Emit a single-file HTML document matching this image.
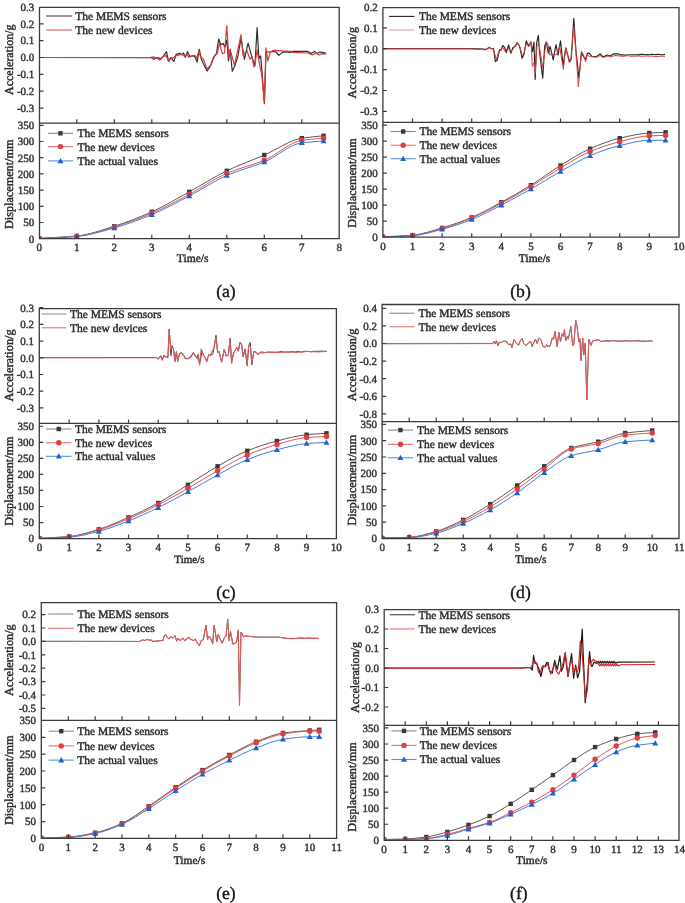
<!DOCTYPE html>
<html><head><meta charset="utf-8"><style>
html,body{margin:0;padding:0;background:#fff;}
svg{display:block;filter:blur(0.4px);}
text{text-rendering:geometricPrecision;font-family:"Liberation Serif",serif;stroke:#2a2a2a;stroke-width:0.4px;paint-order:stroke;}
</style></head><body>
<svg width="685" height="903" viewBox="0 0 685 903">
<rect width="685" height="903" fill="#fff"/>
<clipPath id="clipa"><rect x="39.5" y="7.3" width="299.7" height="115.9"/></clipPath>
<polyline clip-path="url(#clipa)" points="39.5,57.5 150.0,57.6 152.0,57.9 153.8,59.3 155.5,57.9 158.1,57.9 160.8,58.6 163.8,55.6 166.5,51.6 168.6,61.7 170.8,57.6 173.9,61.3 176.1,54.4 180.0,53.4 181.3,54.7 183.5,53.0 185.3,57.3 187.5,51.6 189.7,56.5 192.7,55.6 194.9,56.5 197.1,62.1 199.3,49.4 201.5,59.5 203.4,63.8 207.0,71.1 210.0,66.7 213.6,57.2 216.5,53.6 218.7,39.0 220.9,44.8 223.1,43.4 225.0,47.0 226.8,40.0 228.5,60.9 230.2,49.4 232.2,71.3 235.0,65.4 238.0,56.0 241.0,38.0 244.4,59.4 248.1,43.1 251.4,55.4 254.9,65.9 257.1,27.5 258.9,58.4 260.6,55.9 262.1,72.8 264.4,103.7 266.0,52.0 269.4,51.9 273.9,51.4 276.0,52.0 278.8,55.4 282.3,52.4 285.0,51.9 290.0,52.5 292.0,51.4 308.0,51.4 311.0,53.5 314.6,51.4 316.8,53.6 319.7,52.0 322.6,52.4 326.2,53.3" fill="none" stroke="#303030" stroke-width="1.2" stroke-linejoin="round"/>
<polyline clip-path="url(#clipa)" points="39.5,57.5 150.0,57.5 153.3,56.9 157.3,58.5 159.9,60.0 163.4,56.5 166.0,55.6 168.6,61.3 170.4,57.9 172.6,58.2 175.6,56.0 180.0,54.7 182.7,54.7 184.4,55.6 187.0,54.7 188.8,57.3 192.7,56.0 194.9,55.3 196.7,58.2 198.9,50.8 201.0,58.2 203.2,58.6 207.0,68.9 210.7,65.3 214.3,56.5 217.3,52.8 219.5,43.4 222.4,53.6 224.6,52.8 226.8,25.5 228.8,57.9 230.2,49.9 234.5,65.4 241.0,34.5 243.0,54.9 247.1,50.9 249.9,59.4 252.0,57.0 253.9,66.9 255.0,64.0 257.1,49.9 259.4,63.9 261.9,75.8 264.4,102.8 265.9,47.9 267.9,60.9 270.4,51.9 273.9,50.4 290.5,51.4 293.0,52.4 308.0,53.0 312.4,55.0 316.0,53.0 319.0,55.0 322.0,53.6 326.2,53.9" fill="none" stroke="#d83838" stroke-width="1.2" stroke-linejoin="round"/>
<clipPath id="clipda"><rect x="39.5" y="123.2" width="299.7" height="115.49999999999999"/></clipPath>
<g clip-path="url(#clipda)">
<path d="M39.30 238.30 C51.80 237.53 64.30 237.24 76.80 236.00 C89.30 234.76 101.80 230.09 114.30 226.20 C126.80 222.31 139.30 217.38 151.80 211.80 C164.30 206.22 176.80 198.63 189.30 191.80 C201.80 184.97 214.30 176.81 226.80 170.80 C239.30 164.79 251.80 160.43 264.30 155.00 C276.80 149.57 289.30 140.30 301.80 138.20 C309.05 136.98 316.30 136.60 323.55 135.80" fill="none" stroke="#5a5a5a" stroke-width="1"/>
<path d="M39.30 238.50 C51.80 237.77 64.30 237.49 76.80 236.30 C89.30 235.11 101.80 230.62 114.30 226.90 C126.80 223.18 139.30 218.50 151.80 213.20 C164.30 207.90 176.80 200.93 189.30 194.30 C201.80 187.67 214.30 178.65 226.80 173.30 C239.30 167.95 251.80 165.55 264.30 160.30 C276.80 155.05 289.30 142.23 301.80 140.30 C309.05 139.18 316.30 138.90 323.55 138.20" fill="none" stroke="#e25555" stroke-width="1"/>
<path d="M39.30 238.70 C51.80 237.97 64.30 237.67 76.80 236.50 C89.30 235.33 101.80 231.38 114.30 227.90 C126.80 224.42 139.30 219.77 151.80 214.60 C164.30 209.43 176.80 202.52 189.30 196.00 C201.80 189.48 214.30 180.81 226.80 175.40 C239.30 169.99 251.80 167.26 264.30 162.00 C276.80 156.74 289.30 144.47 301.80 142.80 C309.05 141.83 316.30 141.60 323.55 141.00" fill="none" stroke="#3a7fd8" stroke-width="1"/>
<rect x="37.10" y="236.10" width="4.4" height="4.4" fill="#383838"/>
<rect x="74.60" y="233.80" width="4.4" height="4.4" fill="#383838"/>
<rect x="112.10" y="224.00" width="4.4" height="4.4" fill="#383838"/>
<rect x="149.60" y="209.60" width="4.4" height="4.4" fill="#383838"/>
<rect x="187.10" y="189.60" width="4.4" height="4.4" fill="#383838"/>
<rect x="224.60" y="168.60" width="4.4" height="4.4" fill="#383838"/>
<rect x="262.10" y="152.80" width="4.4" height="4.4" fill="#383838"/>
<rect x="299.60" y="136.00" width="4.4" height="4.4" fill="#383838"/>
<rect x="321.35" y="133.60" width="4.4" height="4.4" fill="#383838"/>
<circle cx="39.30" cy="238.50" r="2.7" fill="#e83b3b"/>
<circle cx="76.80" cy="236.30" r="2.7" fill="#e83b3b"/>
<circle cx="114.30" cy="226.90" r="2.7" fill="#e83b3b"/>
<circle cx="151.80" cy="213.20" r="2.7" fill="#e83b3b"/>
<circle cx="189.30" cy="194.30" r="2.7" fill="#e83b3b"/>
<circle cx="226.80" cy="173.30" r="2.7" fill="#e83b3b"/>
<circle cx="264.30" cy="160.30" r="2.7" fill="#e83b3b"/>
<circle cx="301.80" cy="140.30" r="2.7" fill="#e83b3b"/>
<circle cx="323.55" cy="138.20" r="2.7" fill="#e83b3b"/>
<path d="M39.30 235.70L42.30 241.00L36.30 241.00Z" fill="#1c62d2"/>
<path d="M76.80 233.50L79.80 238.80L73.80 238.80Z" fill="#1c62d2"/>
<path d="M114.30 224.90L117.30 230.20L111.30 230.20Z" fill="#1c62d2"/>
<path d="M151.80 211.60L154.80 216.90L148.80 216.90Z" fill="#1c62d2"/>
<path d="M189.30 193.00L192.30 198.30L186.30 198.30Z" fill="#1c62d2"/>
<path d="M226.80 172.40L229.80 177.70L223.80 177.70Z" fill="#1c62d2"/>
<path d="M264.30 159.00L267.30 164.30L261.30 164.30Z" fill="#1c62d2"/>
<path d="M301.80 139.80L304.80 145.10L298.80 145.10Z" fill="#1c62d2"/>
<path d="M323.55 138.00L326.55 143.30L320.55 143.30Z" fill="#1c62d2"/>
</g>
<path d="M39.5 7.3H339.2V238.7H39.5Z M39.5 123.2H339.2" fill="none" stroke="#3a3a3a" stroke-width="1.3"/>
<path d="M76.80 123.2v-4.0 M76.80 238.7v-4.0 M114.30 123.2v-4.0 M114.30 238.7v-4.0 M151.80 123.2v-4.0 M151.80 238.7v-4.0 M189.30 123.2v-4.0 M189.30 238.7v-4.0 M226.80 123.2v-4.0 M226.80 238.7v-4.0 M264.30 123.2v-4.0 M264.30 238.7v-4.0 M301.80 123.2v-4.0 M301.80 238.7v-4.0 M39.5 23.80h4.0 M39.5 40.65h4.0 M39.5 57.50h4.0 M39.5 74.35h4.0 M39.5 91.20h4.0 M39.5 108.05h4.0 M39.5 222.50h4.0 M39.5 206.30h4.0 M39.5 190.10h4.0 M39.5 173.90h4.0 M39.5 157.70h4.0 M39.5 141.50h4.0 M39.5 125.30h4.0" stroke="#3a3a3a" stroke-width="1.2" fill="none"/>
<g font-size="11" fill="#303030" style="stroke:#303030;stroke-width:0.25px"><text x="34.3" y="10.8" text-anchor="end">0.3</text><text x="34.3" y="27.6" text-anchor="end">0.2</text><text x="34.3" y="44.4" text-anchor="end">0.1</text><text x="34.3" y="61.3" text-anchor="end">0.0</text><text x="34.3" y="78.1" text-anchor="end">-0.1</text><text x="34.3" y="95.0" text-anchor="end">-0.2</text><text x="34.3" y="111.8" text-anchor="end">-0.3</text><text x="34.3" y="242.5" text-anchor="end">0</text><text x="34.3" y="226.3" text-anchor="end">50</text><text x="34.3" y="210.1" text-anchor="end">100</text><text x="34.3" y="193.9" text-anchor="end">150</text><text x="34.3" y="177.7" text-anchor="end">200</text><text x="34.3" y="161.5" text-anchor="end">250</text><text x="34.3" y="145.3" text-anchor="end">300</text><text x="34.3" y="129.1" text-anchor="end">350</text><text x="39.3" y="251.3" text-anchor="middle">0</text><text x="76.8" y="251.3" text-anchor="middle">1</text><text x="114.3" y="251.3" text-anchor="middle">2</text><text x="151.8" y="251.3" text-anchor="middle">3</text><text x="189.3" y="251.3" text-anchor="middle">4</text><text x="226.8" y="251.3" text-anchor="middle">5</text><text x="264.3" y="251.3" text-anchor="middle">6</text><text x="301.8" y="251.3" text-anchor="middle">7</text><text x="339.3" y="251.3" text-anchor="middle">8</text></g>
<text transform="translate(12.799999999999999,59.7) rotate(-90)" text-anchor="middle" font-size="12.0" fill="#262626">Acceleration/g</text>
<text transform="translate(12.799999999999999,184.3) rotate(-90)" text-anchor="middle" font-size="12.2" fill="#262626">Displacement/mm</text>
<text x="192.7" y="261.6" text-anchor="middle" font-size="11.6" fill="#262626">Time/s</text>
<text x="225.9" y="297.4" text-anchor="middle" font-size="17.6" fill="#111">(a)</text>
<line x1="46.1" y1="16.0" x2="72.1" y2="16.0" stroke="#555" stroke-width="1.2"/>
<text x="75.2" y="19.9" font-size="11.5" fill="#262626">The MEMS sensors</text>
<line x1="46.1" y1="30.0" x2="72.1" y2="30.0" stroke="#e06a6a" stroke-width="1.2"/>
<text x="75.2" y="33.9" font-size="11.5" fill="#262626">The new devices</text>
<line x1="47.8" y1="133.3" x2="73.1" y2="133.3" stroke="#888" stroke-width="1.1"/>
<rect x="58.25" y="131.10" width="4.4" height="4.4" fill="#383838"/>
<text x="77.4" y="137.2" font-size="11.5" fill="#262626">The MEMS sensors</text>
<line x1="47.8" y1="146.6" x2="73.1" y2="146.6" stroke="#e27070" stroke-width="1.1"/>
<circle cx="60.45" cy="146.60" r="2.7" fill="#e83b3b"/>
<text x="77.4" y="150.5" font-size="11.5" fill="#262626">The new devices</text>
<line x1="47.8" y1="160.9" x2="73.1" y2="160.9" stroke="#5a90d8" stroke-width="1.1"/>
<path d="M60.45 157.90L63.45 163.20L57.45 163.20Z" fill="#1c62d2"/>
<text x="77.4" y="164.8" font-size="11.5" fill="#262626">The actual values</text>
<clipPath id="clipb"><rect x="382.9" y="7.6" width="296.1" height="114.80000000000001"/></clipPath>
<polyline clip-path="url(#clipb)" points="382.9,48.6 470.0,48.5 484.3,49.1 485.3,49.8 487.4,48.6 489.4,47.4 490.9,48.6 493.5,48.6 495.3,61.4 497.1,60.4 499.6,49.6 501.2,50.1 502.7,45.5 504.7,47.6 506.3,52.7 508.6,45.0 510.9,53.2 512.9,47.6 515.0,46.6 517.5,43.0 519.6,46.1 522.1,58.3 524.2,53.7 526.2,40.9 528.8,46.1 530.8,42.0 532.5,51.7 533.9,42.0 535.2,79.5 536.5,43.9 538.3,35.3 539.6,52.1 542.7,78.2 544.7,46.0 546.2,41.9 548.3,53.1 550.1,46.5 553.2,59.8 556.0,44.5 558.0,55.2 560.5,40.9 563.1,65.4 565.7,48.0 569.7,61.8 571.3,58.2 573.8,18.4 575.9,50.1 578.9,77.7 581.5,52.1 583.0,55.7 585.6,59.3 587.6,53.1 589.7,53.6 591.7,56.2 596.3,56.7 600.1,53.9 603.2,57.0 607.0,55.0 610.0,56.0 613.4,53.9 618.5,53.9 620.5,54.9 622.7,54.7 625.0,55.1 627.2,55.0 629.4,54.7 631.6,54.8 633.9,54.7 636.1,54.8 638.3,54.9 640.5,54.4 642.8,54.4 645.0,54.8 647.2,54.6 649.4,54.7 651.6,54.3 653.9,54.5 656.1,54.6 658.3,54.3 660.5,54.7 662.8,54.7 665.0,54.4" fill="none" stroke="#222" stroke-width="1.15" stroke-linejoin="round"/>
<polyline clip-path="url(#clipb)" points="382.9,48.8 470.0,48.8 484.3,49.8 489.4,48.1 493.5,49.1 496.4,59.9 498.6,51.7 500.5,50.5 502.7,47.6 505.3,51.7 507.8,47.6 510.4,52.2 513.9,48.1 517.0,42.0 520.1,47.6 522.1,55.3 524.2,52.7 526.2,44.0 528.8,46.5 531.1,41.5 532.3,66.5 533.9,62.9 535.2,73.6 537.0,45.0 539.1,45.0 542.7,67.4 546.2,41.9 547.8,43.5 549.8,55.2 551.8,53.6 554.4,55.2 557.0,54.2 559.5,46.0 563.4,69.5 565.7,47.5 569.2,62.3 570.8,60.3 573.8,26.6 575.9,52.1 578.4,86.9 581.5,51.1 583.5,55.2 585.6,61.8 587.1,55.2 590.2,56.7 596.3,57.2 600.1,55.5 603.2,57.5 608.0,56.0 610.3,57.0 615.0,55.5 619.5,56.0 621.8,56.3 624.0,56.3 626.3,55.8 628.6,55.8 630.9,56.3 633.1,56.2 635.4,56.2 637.7,56.0 640.0,56.2 642.2,56.2 644.5,56.2 646.8,56.0 649.1,56.2 651.4,56.1 653.6,56.4 655.9,56.5 658.2,56.5 660.5,56.3 662.7,56.3 665.0,56.3" fill="none" stroke="#d84040" stroke-width="1.0" stroke-linejoin="round"/>
<clipPath id="clipdb"><rect x="382.9" y="122.4" width="296.1" height="114.79999999999998"/></clipPath>
<g clip-path="url(#clipdb)">
<path d="M382.90 236.80 C392.77 236.27 402.63 236.07 412.50 235.20 C422.37 234.33 432.23 230.77 442.10 227.90 C451.97 225.03 461.83 221.53 471.70 217.40 C481.57 213.27 491.43 207.65 501.30 202.30 C511.17 196.95 521.03 191.30 530.90 185.20 C540.77 179.10 550.63 171.54 560.50 165.50 C570.37 159.46 580.23 153.01 590.10 148.70 C599.97 144.39 609.83 140.52 619.70 138.20 C629.57 135.88 639.43 133.64 649.30 133.00 C654.73 132.65 660.15 132.53 665.58 132.30" fill="none" stroke="#5a5a5a" stroke-width="1"/>
<path d="M382.90 237.00 C392.77 236.50 402.63 236.32 412.50 235.50 C422.37 234.68 432.23 231.29 442.10 228.50 C451.97 225.71 461.83 222.16 471.70 218.10 C481.57 214.04 491.43 208.63 501.30 203.40 C511.17 198.17 521.03 192.48 530.90 186.60 C540.77 180.72 550.63 173.83 560.50 168.00 C570.37 162.17 580.23 155.60 590.10 151.50 C599.97 147.40 609.83 144.16 619.70 141.70 C629.57 139.24 639.43 136.20 649.30 135.80 C654.73 135.58 660.15 135.53 665.58 135.40" fill="none" stroke="#e25555" stroke-width="1"/>
<path d="M382.90 237.20 C392.77 236.73 402.63 236.57 412.50 235.80 C422.37 235.03 432.23 231.91 442.10 229.30 C451.97 226.69 461.83 223.39 471.70 219.50 C481.57 215.61 491.43 210.17 501.30 205.10 C511.17 200.03 521.03 194.59 530.90 189.00 C540.77 183.41 550.63 177.04 560.50 171.50 C570.37 165.96 580.23 159.81 590.10 155.70 C599.97 151.59 609.83 147.92 619.70 145.60 C629.57 143.28 639.43 140.30 649.30 140.30 C654.73 140.30 660.15 140.30 665.58 140.30" fill="none" stroke="#3a7fd8" stroke-width="1"/>
<rect x="380.70" y="234.60" width="4.4" height="4.4" fill="#383838"/>
<rect x="410.30" y="233.00" width="4.4" height="4.4" fill="#383838"/>
<rect x="439.90" y="225.70" width="4.4" height="4.4" fill="#383838"/>
<rect x="469.50" y="215.20" width="4.4" height="4.4" fill="#383838"/>
<rect x="499.10" y="200.10" width="4.4" height="4.4" fill="#383838"/>
<rect x="528.70" y="183.00" width="4.4" height="4.4" fill="#383838"/>
<rect x="558.30" y="163.30" width="4.4" height="4.4" fill="#383838"/>
<rect x="587.90" y="146.50" width="4.4" height="4.4" fill="#383838"/>
<rect x="617.50" y="136.00" width="4.4" height="4.4" fill="#383838"/>
<rect x="647.10" y="130.80" width="4.4" height="4.4" fill="#383838"/>
<rect x="663.38" y="130.10" width="4.4" height="4.4" fill="#383838"/>
<circle cx="382.90" cy="237.00" r="2.7" fill="#e83b3b"/>
<circle cx="412.50" cy="235.50" r="2.7" fill="#e83b3b"/>
<circle cx="442.10" cy="228.50" r="2.7" fill="#e83b3b"/>
<circle cx="471.70" cy="218.10" r="2.7" fill="#e83b3b"/>
<circle cx="501.30" cy="203.40" r="2.7" fill="#e83b3b"/>
<circle cx="530.90" cy="186.60" r="2.7" fill="#e83b3b"/>
<circle cx="560.50" cy="168.00" r="2.7" fill="#e83b3b"/>
<circle cx="590.10" cy="151.50" r="2.7" fill="#e83b3b"/>
<circle cx="619.70" cy="141.70" r="2.7" fill="#e83b3b"/>
<circle cx="649.30" cy="135.80" r="2.7" fill="#e83b3b"/>
<circle cx="665.58" cy="135.40" r="2.7" fill="#e83b3b"/>
<path d="M382.90 234.20L385.90 239.50L379.90 239.50Z" fill="#1c62d2"/>
<path d="M412.50 232.80L415.50 238.10L409.50 238.10Z" fill="#1c62d2"/>
<path d="M442.10 226.30L445.10 231.60L439.10 231.60Z" fill="#1c62d2"/>
<path d="M471.70 216.50L474.70 221.80L468.70 221.80Z" fill="#1c62d2"/>
<path d="M501.30 202.10L504.30 207.40L498.30 207.40Z" fill="#1c62d2"/>
<path d="M530.90 186.00L533.90 191.30L527.90 191.30Z" fill="#1c62d2"/>
<path d="M560.50 168.50L563.50 173.80L557.50 173.80Z" fill="#1c62d2"/>
<path d="M590.10 152.70L593.10 158.00L587.10 158.00Z" fill="#1c62d2"/>
<path d="M619.70 142.60L622.70 147.90L616.70 147.90Z" fill="#1c62d2"/>
<path d="M649.30 137.30L652.30 142.60L646.30 142.60Z" fill="#1c62d2"/>
<path d="M665.58 137.30L668.58 142.60L662.58 142.60Z" fill="#1c62d2"/>
</g>
<path d="M382.9 7.6H679.0V237.2H382.9Z M382.9 122.4H679.0" fill="none" stroke="#3a3a3a" stroke-width="1.3"/>
<path d="M412.50 122.4v-4.0 M412.50 237.2v-4.0 M442.10 122.4v-4.0 M442.10 237.2v-4.0 M471.70 122.4v-4.0 M471.70 237.2v-4.0 M501.30 122.4v-4.0 M501.30 237.2v-4.0 M530.90 122.4v-4.0 M530.90 237.2v-4.0 M560.50 122.4v-4.0 M560.50 237.2v-4.0 M590.10 122.4v-4.0 M590.10 237.2v-4.0 M619.70 122.4v-4.0 M619.70 237.2v-4.0 M649.30 122.4v-4.0 M649.30 237.2v-4.0 M382.9 27.80h4.0 M382.9 48.70h4.0 M382.9 69.60h4.0 M382.9 90.50h4.0 M382.9 111.40h4.0 M382.9 221.20h4.0 M382.9 205.20h4.0 M382.9 189.20h4.0 M382.9 173.20h4.0 M382.9 157.20h4.0 M382.9 141.20h4.0 M382.9 125.20h4.0" stroke="#3a3a3a" stroke-width="1.2" fill="none"/>
<g font-size="11" fill="#303030" style="stroke:#303030;stroke-width:0.25px"><text x="377.7" y="10.7" text-anchor="end">0.2</text><text x="377.7" y="31.6" text-anchor="end">0.1</text><text x="377.7" y="52.5" text-anchor="end">0.0</text><text x="377.7" y="73.4" text-anchor="end">-0.1</text><text x="377.7" y="94.3" text-anchor="end">-0.2</text><text x="377.7" y="115.2" text-anchor="end">-0.3</text><text x="377.7" y="241.0" text-anchor="end">0</text><text x="377.7" y="225.0" text-anchor="end">50</text><text x="377.7" y="209.0" text-anchor="end">100</text><text x="377.7" y="193.0" text-anchor="end">150</text><text x="377.7" y="177.0" text-anchor="end">200</text><text x="377.7" y="161.0" text-anchor="end">250</text><text x="377.7" y="145.0" text-anchor="end">300</text><text x="377.7" y="129.0" text-anchor="end">350</text><text x="382.9" y="249.8" text-anchor="middle">0</text><text x="412.5" y="249.8" text-anchor="middle">1</text><text x="442.1" y="249.8" text-anchor="middle">2</text><text x="471.7" y="249.8" text-anchor="middle">3</text><text x="501.3" y="249.8" text-anchor="middle">4</text><text x="530.9" y="249.8" text-anchor="middle">5</text><text x="560.5" y="249.8" text-anchor="middle">6</text><text x="590.1" y="249.8" text-anchor="middle">7</text><text x="619.7" y="249.8" text-anchor="middle">8</text><text x="649.3" y="249.8" text-anchor="middle">9</text><text x="678.9" y="249.8" text-anchor="middle">10</text></g>
<text transform="translate(356.1,62.7) rotate(-90)" text-anchor="middle" font-size="12.15" fill="#262626">Acceleration/g</text>
<text transform="translate(355.8,183.0) rotate(-90)" text-anchor="middle" font-size="12.2" fill="#262626">Displacement/mm</text>
<text x="534.6" y="262.0" text-anchor="middle" font-size="11.5" fill="#262626">Time/s</text>
<text x="520.5" y="297.4" text-anchor="middle" font-size="17.6" fill="#111">(b)</text>
<line x1="389.1" y1="16.4" x2="414.5" y2="16.4" stroke="#222" stroke-width="1.1"/>
<text x="418.9" y="20.3" font-size="11.5" fill="#262626">The MEMS sensors</text>
<line x1="389.1" y1="30.0" x2="414.5" y2="30.0" stroke="#e6a0a0" stroke-width="1.1"/>
<text x="418.9" y="33.9" font-size="11.5" fill="#262626">The new devices</text>
<line x1="390.7" y1="131.5" x2="415.7" y2="131.5" stroke="#888" stroke-width="1.1"/>
<rect x="401.00" y="129.30" width="4.4" height="4.4" fill="#383838"/>
<text x="419.6" y="135.4" font-size="11.5" fill="#262626">The MEMS sensors</text>
<line x1="390.7" y1="145.2" x2="415.7" y2="145.2" stroke="#e27070" stroke-width="1.1"/>
<circle cx="403.20" cy="145.20" r="2.7" fill="#e83b3b"/>
<text x="419.6" y="149.1" font-size="11.5" fill="#262626">The new devices</text>
<line x1="390.7" y1="158.7" x2="415.7" y2="158.7" stroke="#5a90d8" stroke-width="1.1"/>
<path d="M403.20 155.70L406.20 161.00L400.20 161.00Z" fill="#1c62d2"/>
<text x="419.6" y="162.6" font-size="11.5" fill="#262626">The actual values</text>
<clipPath id="clipc"><rect x="39.3" y="308.6" width="297.09999999999997" height="114.79999999999995"/></clipPath>
<polyline clip-path="url(#clipc)" points="39.3,357.6 150.0,357.5 156.6,357.5 158.2,358.8 160.7,355.6 162.3,359.8 163.8,355.3 165.3,356.4 167.9,357.4 169.2,329.2 170.9,355.7 172.0,345.5 173.5,349.5 175.0,361.3 176.4,351.6 177.6,361.3 179.6,353.3 181.7,352.8 183.7,355.4 185.3,358.4 188.3,358.4 190.9,357.2 193.4,352.6 195.0,355.4 197.5,358.4 198.0,354.6 199.6,364.3 202.1,351.1 203.1,354.6 205.2,357.4 206.7,361.3 208.8,354.6 210.3,355.4 212.8,354.1 213.9,348.5 216.0,335.2 217.6,352.6 219.1,351.6 221.6,362.0 224.2,349.5 226.2,356.0 228.3,355.1 230.1,338.3 231.6,363.0 233.4,353.6 234.9,350.5 237.0,347.5 238.3,351.1 240.0,342.4 241.6,344.4 243.1,356.7 245.1,349.0 247.2,365.5 248.7,345.4 250.3,342.4 251.8,364.9 253.8,351.6 255.9,352.1 257.9,354.6 260.0,352.3 262.2,352.0 264.5,352.5 266.7,352.4 268.9,352.0 271.2,352.1 273.4,352.1 275.6,352.2 277.9,352.2 280.1,351.7 282.3,351.6 284.6,352.2 286.8,351.9 289.0,352.1 291.3,351.5 293.5,351.8 295.7,351.9 298.0,351.5 300.2,352.0 302.4,351.9 304.7,351.3 306.9,351.3 309.1,351.6 311.4,351.8 313.6,351.4 315.8,351.3 318.1,351.4 320.3,351.1 322.5,351.2 324.8,351.3 327.0,351.3" fill="none" stroke="#444" stroke-width="1.0" stroke-linejoin="round"/>
<polyline clip-path="url(#clipc)" points="39.3,357.8 150.0,357.7 156.6,357.7 158.2,359.2 160.7,356.2 162.3,360.3 163.8,355.7 165.3,356.7 167.9,357.7 169.2,329.6 170.9,349.5 172.0,346.5 173.5,349.5 175.0,361.8 176.4,351.6 177.6,361.8 179.6,353.6 181.7,353.1 183.7,355.7 185.3,358.7 188.3,358.7 190.9,356.2 193.4,352.6 195.0,355.7 197.5,358.7 198.0,354.6 199.6,364.9 201.1,349.0 203.1,354.6 205.2,357.7 206.7,361.8 208.8,354.6 210.3,355.7 211.8,351.6 213.9,348.5 216.0,337.3 217.6,352.6 219.1,351.6 221.6,362.3 224.2,349.5 226.2,356.2 228.3,355.1 230.1,338.3 231.6,363.3 233.4,353.6 234.9,350.5 237.0,347.5 238.3,351.1 240.0,342.4 241.6,344.4 243.1,356.7 245.1,349.0 247.2,365.9 248.7,345.4 250.3,345.9 251.8,363.8 253.8,351.6 255.9,352.1 257.9,354.1 260.0,352.6 262.2,352.9 264.5,352.8 266.7,352.2 268.9,352.2 271.2,352.7 273.4,352.6 275.6,352.5 277.9,352.2 280.1,352.4 282.3,352.3 284.6,352.3 286.8,352.0 289.0,352.1 291.3,352.1 293.5,352.3 295.7,352.4 298.0,352.3 300.2,352.0 302.4,351.9 304.7,351.8 306.9,351.6 309.1,351.5 311.4,351.8 313.6,351.7 315.8,351.7 318.1,352.0 320.3,351.7 322.5,351.7 324.8,351.4 327.0,351.6" fill="none" stroke="#dc5858" stroke-width="1.05" stroke-linejoin="round"/>
<clipPath id="clipdc"><rect x="39.3" y="423.4" width="297.09999999999997" height="115.20000000000005"/></clipPath>
<g clip-path="url(#clipdc)">
<path d="M39.50 538.20 C49.39 537.63 59.29 537.42 69.18 536.50 C79.07 535.58 88.97 532.29 98.86 529.30 C108.75 526.31 118.65 521.74 128.54 517.40 C138.43 513.06 148.33 508.36 158.22 503.00 C168.11 497.64 178.01 490.92 187.90 484.80 C197.79 478.68 207.69 471.92 217.58 466.30 C227.47 460.68 237.37 454.80 247.26 450.80 C257.15 446.80 267.05 443.56 276.94 441.00 C286.83 438.44 296.73 435.71 306.62 434.70 C313.25 434.02 319.88 433.77 326.51 433.30" fill="none" stroke="#5a5a5a" stroke-width="1"/>
<path d="M39.50 538.40 C49.39 537.87 59.29 537.66 69.18 536.80 C79.07 535.94 88.97 532.82 98.86 530.00 C108.75 527.18 118.65 522.95 128.54 518.80 C138.43 514.65 148.33 509.85 158.22 504.80 C168.11 499.75 178.01 493.96 187.90 488.30 C197.79 482.64 207.69 476.34 217.58 470.80 C227.47 465.26 237.37 459.21 247.26 455.00 C257.15 450.79 267.05 447.30 276.94 444.50 C286.83 441.70 296.73 438.29 306.62 437.50 C313.25 436.97 319.88 436.83 326.51 436.50" fill="none" stroke="#e25555" stroke-width="1"/>
<path d="M39.50 538.60 C49.39 538.13 59.29 537.95 69.18 537.20 C79.07 536.45 88.97 533.89 98.86 531.40 C108.75 528.91 118.65 524.81 128.54 520.90 C138.43 516.99 148.33 512.41 158.22 507.60 C168.11 502.79 178.01 497.23 187.90 491.80 C197.79 486.37 207.69 480.36 217.58 475.00 C227.47 469.64 237.37 463.59 247.26 459.60 C257.15 455.61 267.05 452.36 276.94 449.80 C286.83 447.24 296.73 444.34 306.62 443.50 C313.25 442.94 319.88 442.77 326.51 442.40" fill="none" stroke="#3a7fd8" stroke-width="1"/>
<rect x="37.30" y="536.00" width="4.4" height="4.4" fill="#383838"/>
<rect x="66.98" y="534.30" width="4.4" height="4.4" fill="#383838"/>
<rect x="96.66" y="527.10" width="4.4" height="4.4" fill="#383838"/>
<rect x="126.34" y="515.20" width="4.4" height="4.4" fill="#383838"/>
<rect x="156.02" y="500.80" width="4.4" height="4.4" fill="#383838"/>
<rect x="185.70" y="482.60" width="4.4" height="4.4" fill="#383838"/>
<rect x="215.38" y="464.10" width="4.4" height="4.4" fill="#383838"/>
<rect x="245.06" y="448.60" width="4.4" height="4.4" fill="#383838"/>
<rect x="274.74" y="438.80" width="4.4" height="4.4" fill="#383838"/>
<rect x="304.42" y="432.50" width="4.4" height="4.4" fill="#383838"/>
<rect x="324.31" y="431.10" width="4.4" height="4.4" fill="#383838"/>
<circle cx="39.50" cy="538.40" r="2.7" fill="#e83b3b"/>
<circle cx="69.18" cy="536.80" r="2.7" fill="#e83b3b"/>
<circle cx="98.86" cy="530.00" r="2.7" fill="#e83b3b"/>
<circle cx="128.54" cy="518.80" r="2.7" fill="#e83b3b"/>
<circle cx="158.22" cy="504.80" r="2.7" fill="#e83b3b"/>
<circle cx="187.90" cy="488.30" r="2.7" fill="#e83b3b"/>
<circle cx="217.58" cy="470.80" r="2.7" fill="#e83b3b"/>
<circle cx="247.26" cy="455.00" r="2.7" fill="#e83b3b"/>
<circle cx="276.94" cy="444.50" r="2.7" fill="#e83b3b"/>
<circle cx="306.62" cy="437.50" r="2.7" fill="#e83b3b"/>
<circle cx="326.51" cy="436.50" r="2.7" fill="#e83b3b"/>
<path d="M39.50 535.60L42.50 540.90L36.50 540.90Z" fill="#1c62d2"/>
<path d="M69.18 534.20L72.18 539.50L66.18 539.50Z" fill="#1c62d2"/>
<path d="M98.86 528.40L101.86 533.70L95.86 533.70Z" fill="#1c62d2"/>
<path d="M128.54 517.90L131.54 523.20L125.54 523.20Z" fill="#1c62d2"/>
<path d="M158.22 504.60L161.22 509.90L155.22 509.90Z" fill="#1c62d2"/>
<path d="M187.90 488.80L190.90 494.10L184.90 494.10Z" fill="#1c62d2"/>
<path d="M217.58 472.00L220.58 477.30L214.58 477.30Z" fill="#1c62d2"/>
<path d="M247.26 456.60L250.26 461.90L244.26 461.90Z" fill="#1c62d2"/>
<path d="M276.94 446.80L279.94 452.10L273.94 452.10Z" fill="#1c62d2"/>
<path d="M306.62 440.50L309.62 445.80L303.62 445.80Z" fill="#1c62d2"/>
<path d="M326.51 439.40L329.51 444.70L323.51 444.70Z" fill="#1c62d2"/>
</g>
<path d="M39.3 308.6H336.4V538.6H39.3Z M39.3 423.4H336.4" fill="none" stroke="#3a3a3a" stroke-width="1.3"/>
<path d="M69.18 423.4v-4.0 M69.18 538.6v-4.0 M98.86 423.4v-4.0 M98.86 538.6v-4.0 M128.54 423.4v-4.0 M128.54 538.6v-4.0 M158.22 423.4v-4.0 M158.22 538.6v-4.0 M187.90 423.4v-4.0 M187.90 538.6v-4.0 M217.58 423.4v-4.0 M217.58 538.6v-4.0 M247.26 423.4v-4.0 M247.26 538.6v-4.0 M276.94 423.4v-4.0 M276.94 538.6v-4.0 M306.62 423.4v-4.0 M306.62 538.6v-4.0 M39.3 307.70h4.0 M39.3 324.40h4.0 M39.3 341.10h4.0 M39.3 357.80h4.0 M39.3 374.50h4.0 M39.3 391.20h4.0 M39.3 407.90h4.0 M39.3 522.55h4.0 M39.3 506.50h4.0 M39.3 490.45h4.0 M39.3 474.40h4.0 M39.3 458.35h4.0 M39.3 442.30h4.0 M39.3 426.25h4.0" stroke="#3a3a3a" stroke-width="1.2" fill="none"/>
<g font-size="11" fill="#303030" style="stroke:#303030;stroke-width:0.25px"><text x="34.1" y="311.5" text-anchor="end">0.3</text><text x="34.1" y="328.2" text-anchor="end">0.2</text><text x="34.1" y="344.9" text-anchor="end">0.1</text><text x="34.1" y="361.6" text-anchor="end">0.0</text><text x="34.1" y="378.3" text-anchor="end">-0.1</text><text x="34.1" y="395.0" text-anchor="end">-0.2</text><text x="34.1" y="411.7" text-anchor="end">-0.3</text><text x="34.1" y="542.4" text-anchor="end">0</text><text x="34.1" y="526.4" text-anchor="end">50</text><text x="34.1" y="510.3" text-anchor="end">100</text><text x="34.1" y="494.3" text-anchor="end">150</text><text x="34.1" y="478.2" text-anchor="end">200</text><text x="34.1" y="462.2" text-anchor="end">250</text><text x="34.1" y="446.1" text-anchor="end">300</text><text x="34.1" y="430.1" text-anchor="end">350</text><text x="39.5" y="551.1" text-anchor="middle">0</text><text x="69.2" y="551.1" text-anchor="middle">1</text><text x="98.9" y="551.1" text-anchor="middle">2</text><text x="128.5" y="551.1" text-anchor="middle">3</text><text x="158.2" y="551.1" text-anchor="middle">4</text><text x="187.9" y="551.1" text-anchor="middle">5</text><text x="217.6" y="551.1" text-anchor="middle">6</text><text x="247.3" y="551.1" text-anchor="middle">7</text><text x="276.9" y="551.1" text-anchor="middle">8</text><text x="306.6" y="551.1" text-anchor="middle">9</text><text x="336.3" y="551.1" text-anchor="middle">10</text></g>
<text transform="translate(13.2,365.5) rotate(-90)" text-anchor="middle" font-size="12.25" fill="#262626">Acceleration/g</text>
<text transform="translate(12.799999999999999,481.2) rotate(-90)" text-anchor="middle" font-size="12.2" fill="#262626">Displacement/mm</text>
<text x="189.4" y="563.0" text-anchor="middle" font-size="11.0" fill="#262626">Time/s</text>
<text x="225.9" y="598.4" text-anchor="middle" font-size="17.6" fill="#111">(c)</text>
<line x1="41.6" y1="314.0" x2="66.4" y2="314.0" stroke="#8a8a8a" stroke-width="1.0"/>
<text x="70.0" y="317.9" font-size="11.5" fill="#262626">The MEMS sensors</text>
<line x1="41.6" y1="327.8" x2="66.4" y2="327.8" stroke="#d96a6a" stroke-width="1.0"/>
<text x="70.0" y="331.7" font-size="11.5" fill="#262626">The new devices</text>
<line x1="46.0" y1="429.0" x2="71.5" y2="429.0" stroke="#888" stroke-width="1.1"/>
<rect x="56.55" y="426.80" width="4.4" height="4.4" fill="#383838"/>
<text x="74.9" y="432.9" font-size="11.5" fill="#262626">The MEMS sensors</text>
<line x1="46.0" y1="442.8" x2="71.5" y2="442.8" stroke="#e27070" stroke-width="1.1"/>
<circle cx="58.75" cy="442.80" r="2.7" fill="#e83b3b"/>
<text x="74.9" y="446.7" font-size="11.5" fill="#262626">The new devices</text>
<line x1="46.0" y1="456.3" x2="71.5" y2="456.3" stroke="#5a90d8" stroke-width="1.1"/>
<path d="M58.75 453.30L61.75 458.60L55.75 458.60Z" fill="#1c62d2"/>
<text x="74.9" y="460.2" font-size="11.5" fill="#262626">The actual values</text>
<clipPath id="clipd"><rect x="382.1" y="304.5" width="296.9" height="117.10000000000002"/></clipPath>
<polyline clip-path="url(#clipd)" points="382.1,343.8 480.0,343.6 492.8,343.6 494.0,341.4 495.2,344.1 496.4,340.6 498.1,345.9 499.3,341.9 501.0,342.6 503.4,341.1 506.3,341.1 508.6,344.8 510.9,344.1 511.8,348.1 514.1,339.4 516.2,342.6 518.5,345.4 520.3,340.8 522.0,338.4 523.8,343.6 526.1,345.9 528.5,342.6 530.8,341.4 532.0,346.6 533.7,342.6 535.5,339.1 537.2,343.6 539.0,337.9 540.7,339.1 543.1,346.6 545.4,347.1 546.6,344.8 547.7,346.6 550.1,346.2 552.2,337.9 553.5,339.2 555.0,331.4 557.2,346.8 558.9,332.4 560.5,341.4 562.2,333.6 563.3,336.2 564.4,329.6 565.7,340.8 567.2,336.4 568.3,339.1 570.8,326.4 572.7,345.6 573.8,344.8 575.7,320.2 577.1,326.4 578.8,341.9 579.9,338.6 581.0,360.6 582.7,337.9 583.8,355.1 585.2,343.4 586.8,399.9 588.8,339.1 591.0,345.6 592.6,340.8 598.7,339.6 600.9,341.4 605.0,340.8 607.3,340.4 609.5,341.1 611.8,341.0 614.0,340.6 616.3,340.8 618.6,340.8 620.8,341.0 623.1,341.1 625.4,340.5 627.6,340.4 629.9,341.2 632.1,340.8 634.4,341.1 636.7,340.4 638.9,340.8 641.2,341.1 643.5,340.7 645.7,341.3 648.0,341.3 650.2,340.5 652.5,340.9" fill="none" stroke="#555" stroke-width="0.9" stroke-linejoin="round"/>
<polyline clip-path="url(#clipd)" points="382.1,343.5 480.0,343.4 492.8,343.4 494.0,341.6 495.2,343.9 496.4,340.8 498.1,345.7 499.3,342.2 501.0,342.8 503.4,341.3 506.3,341.3 508.6,344.5 510.9,343.9 511.8,347.8 514.1,339.6 516.2,342.8 518.5,345.1 520.3,341.0 522.0,338.7 523.8,343.4 526.1,345.7 528.5,342.8 530.8,341.6 532.0,346.3 533.7,342.8 535.5,339.3 537.2,343.4 539.0,338.1 540.7,339.3 543.1,346.3 545.4,346.9 546.6,344.5 547.7,346.3 550.1,346.0 552.2,338.2 553.5,339.5 555.0,331.6 557.2,346.5 558.9,332.7 560.5,341.6 562.2,333.8 563.3,336.5 564.4,329.9 565.7,341.0 567.2,336.6 568.3,339.3 570.8,326.6 572.7,345.4 573.8,344.5 575.7,320.5 577.1,326.6 578.8,342.1 579.9,338.8 581.0,360.4 582.7,338.2 583.8,354.9 585.2,343.2 586.8,399.7 588.8,339.3 591.0,345.4 592.6,341.0 598.7,339.9 600.9,341.6 605.0,341.0 607.3,341.4 609.5,341.4 611.8,340.6 614.0,340.7 616.3,341.3 618.6,341.3 620.8,341.2 623.1,340.9 625.4,341.2 627.6,341.2 629.9,341.2 632.1,340.8 634.4,341.1 636.7,341.0 638.9,341.3 641.2,341.6 643.5,341.6 645.7,341.2 648.0,341.1 650.2,341.0 652.5,341.2" fill="none" stroke="#dc5a5a" stroke-width="1.0" stroke-linejoin="round"/>
<clipPath id="clipdd"><rect x="382.1" y="421.6" width="296.9" height="116.89999999999998"/></clipPath>
<g clip-path="url(#clipdd)">
<path d="M382.20 538.00 C391.20 537.77 400.20 537.72 409.20 537.30 C418.20 536.88 427.20 534.00 436.20 531.40 C445.20 528.80 454.20 524.34 463.20 519.90 C472.20 515.46 481.20 509.80 490.20 504.10 C499.20 498.40 508.20 491.80 517.20 485.50 C526.20 479.20 535.20 472.55 544.20 466.30 C553.20 460.05 562.20 451.12 571.20 448.00 C580.20 444.88 589.20 444.14 598.20 441.70 C607.20 439.26 616.20 434.29 625.20 433.00 C634.20 431.71 643.20 431.33 652.20 430.50" fill="none" stroke="#5a5a5a" stroke-width="1"/>
<path d="M382.20 538.20 C391.20 537.97 400.20 537.91 409.20 537.50 C418.20 537.09 427.20 534.40 436.20 532.00 C445.20 529.60 454.20 525.66 463.20 521.60 C472.20 517.54 481.20 512.28 490.20 506.90 C499.20 501.52 508.20 495.28 517.20 489.00 C526.20 482.72 535.20 475.75 544.20 469.10 C553.20 462.45 562.20 452.02 571.20 449.10 C580.20 446.18 589.20 445.74 598.20 443.50 C607.20 441.26 616.20 436.22 625.20 435.10 C634.20 433.98 643.20 433.70 652.20 433.00" fill="none" stroke="#e25555" stroke-width="1"/>
<path d="M382.20 538.50 C391.20 538.27 400.20 538.21 409.20 537.80 C418.20 537.39 427.20 535.29 436.20 533.20 C445.20 531.11 454.20 527.17 463.20 523.40 C472.20 519.63 481.20 515.01 490.20 510.00 C499.20 504.99 508.20 499.09 517.20 492.90 C526.20 486.71 535.20 478.75 544.20 472.60 C553.20 466.45 562.20 458.62 571.20 455.70 C580.20 452.78 589.20 452.08 598.20 449.80 C607.20 447.52 616.20 442.64 625.20 441.70 C634.20 440.76 643.20 440.57 652.20 440.00" fill="none" stroke="#3a7fd8" stroke-width="1"/>
<rect x="380.00" y="535.80" width="4.4" height="4.4" fill="#383838"/>
<rect x="407.00" y="535.10" width="4.4" height="4.4" fill="#383838"/>
<rect x="434.00" y="529.20" width="4.4" height="4.4" fill="#383838"/>
<rect x="461.00" y="517.70" width="4.4" height="4.4" fill="#383838"/>
<rect x="488.00" y="501.90" width="4.4" height="4.4" fill="#383838"/>
<rect x="515.00" y="483.30" width="4.4" height="4.4" fill="#383838"/>
<rect x="542.00" y="464.10" width="4.4" height="4.4" fill="#383838"/>
<rect x="569.00" y="445.80" width="4.4" height="4.4" fill="#383838"/>
<rect x="596.00" y="439.50" width="4.4" height="4.4" fill="#383838"/>
<rect x="623.00" y="430.80" width="4.4" height="4.4" fill="#383838"/>
<rect x="650.00" y="428.30" width="4.4" height="4.4" fill="#383838"/>
<circle cx="382.20" cy="538.20" r="2.7" fill="#e83b3b"/>
<circle cx="409.20" cy="537.50" r="2.7" fill="#e83b3b"/>
<circle cx="436.20" cy="532.00" r="2.7" fill="#e83b3b"/>
<circle cx="463.20" cy="521.60" r="2.7" fill="#e83b3b"/>
<circle cx="490.20" cy="506.90" r="2.7" fill="#e83b3b"/>
<circle cx="517.20" cy="489.00" r="2.7" fill="#e83b3b"/>
<circle cx="544.20" cy="469.10" r="2.7" fill="#e83b3b"/>
<circle cx="571.20" cy="449.10" r="2.7" fill="#e83b3b"/>
<circle cx="598.20" cy="443.50" r="2.7" fill="#e83b3b"/>
<circle cx="625.20" cy="435.10" r="2.7" fill="#e83b3b"/>
<circle cx="652.20" cy="433.00" r="2.7" fill="#e83b3b"/>
<path d="M382.20 535.50L385.20 540.80L379.20 540.80Z" fill="#1c62d2"/>
<path d="M409.20 534.80L412.20 540.10L406.20 540.10Z" fill="#1c62d2"/>
<path d="M436.20 530.20L439.20 535.50L433.20 535.50Z" fill="#1c62d2"/>
<path d="M463.20 520.40L466.20 525.70L460.20 525.70Z" fill="#1c62d2"/>
<path d="M490.20 507.00L493.20 512.30L487.20 512.30Z" fill="#1c62d2"/>
<path d="M517.20 489.90L520.20 495.20L514.20 495.20Z" fill="#1c62d2"/>
<path d="M544.20 469.60L547.20 474.90L541.20 474.90Z" fill="#1c62d2"/>
<path d="M571.20 452.70L574.20 458.00L568.20 458.00Z" fill="#1c62d2"/>
<path d="M598.20 446.80L601.20 452.10L595.20 452.10Z" fill="#1c62d2"/>
<path d="M625.20 438.70L628.20 444.00L622.20 444.00Z" fill="#1c62d2"/>
<path d="M652.20 437.00L655.20 442.30L649.20 442.30Z" fill="#1c62d2"/>
</g>
<path d="M382.1 304.5H679.0V538.5H382.1Z M382.1 421.6H679.0" fill="none" stroke="#3a3a3a" stroke-width="1.3"/>
<path d="M409.20 421.6v-4.0 M409.20 538.5v-4.0 M436.20 421.6v-4.0 M436.20 538.5v-4.0 M463.20 421.6v-4.0 M463.20 538.5v-4.0 M490.20 421.6v-4.0 M490.20 538.5v-4.0 M517.20 421.6v-4.0 M517.20 538.5v-4.0 M544.20 421.6v-4.0 M544.20 538.5v-4.0 M571.20 421.6v-4.0 M571.20 538.5v-4.0 M598.20 421.6v-4.0 M598.20 538.5v-4.0 M625.20 421.6v-4.0 M625.20 538.5v-4.0 M652.20 421.6v-4.0 M652.20 538.5v-4.0 M382.1 308.30h4.0 M382.1 325.90h4.0 M382.1 343.50h4.0 M382.1 361.10h4.0 M382.1 378.70h4.0 M382.1 396.30h4.0 M382.1 413.90h4.0 M382.1 522.20h4.0 M382.1 505.90h4.0 M382.1 489.60h4.0 M382.1 473.30h4.0 M382.1 457.00h4.0 M382.1 440.70h4.0 M382.1 424.40h4.0" stroke="#3a3a3a" stroke-width="1.2" fill="none"/>
<g font-size="11" fill="#303030" style="stroke:#303030;stroke-width:0.25px"><text x="376.9" y="312.1" text-anchor="end">0.4</text><text x="376.9" y="329.7" text-anchor="end">0.2</text><text x="376.9" y="347.3" text-anchor="end">0.0</text><text x="376.9" y="364.9" text-anchor="end">-0.2</text><text x="376.9" y="382.5" text-anchor="end">-0.4</text><text x="376.9" y="400.1" text-anchor="end">-0.6</text><text x="376.9" y="417.7" text-anchor="end">-0.8</text><text x="376.9" y="542.3" text-anchor="end">0</text><text x="376.9" y="526.0" text-anchor="end">50</text><text x="376.9" y="509.7" text-anchor="end">100</text><text x="376.9" y="493.4" text-anchor="end">150</text><text x="376.9" y="477.1" text-anchor="end">200</text><text x="376.9" y="460.8" text-anchor="end">250</text><text x="376.9" y="444.5" text-anchor="end">300</text><text x="376.9" y="428.2" text-anchor="end">350</text><text x="382.2" y="551.1" text-anchor="middle">0</text><text x="409.2" y="551.1" text-anchor="middle">1</text><text x="436.2" y="551.1" text-anchor="middle">2</text><text x="463.2" y="551.1" text-anchor="middle">3</text><text x="490.2" y="551.1" text-anchor="middle">4</text><text x="517.2" y="551.1" text-anchor="middle">5</text><text x="544.2" y="551.1" text-anchor="middle">6</text><text x="571.2" y="551.1" text-anchor="middle">7</text><text x="598.2" y="551.1" text-anchor="middle">8</text><text x="625.2" y="551.1" text-anchor="middle">9</text><text x="652.2" y="551.1" text-anchor="middle">10</text><text x="679.2" y="551.1" text-anchor="middle">11</text></g>
<text transform="translate(355.8,364.9) rotate(-90)" text-anchor="middle" font-size="12.4" fill="#262626">Acceleration/g</text>
<text transform="translate(355.8,480.3) rotate(-90)" text-anchor="middle" font-size="12.4" fill="#262626">Displacement/mm</text>
<text x="530.7" y="562.5" text-anchor="middle" font-size="11.5" fill="#262626">Time/s</text>
<text x="520.5" y="598.1" text-anchor="middle" font-size="17.6" fill="#111">(d)</text>
<line x1="389.4" y1="313.2" x2="414.5" y2="313.2" stroke="#7a7a7a" stroke-width="1.0"/>
<text x="418.6" y="317.1" font-size="11.5" fill="#262626">The MEMS sensors</text>
<line x1="389.4" y1="326.8" x2="414.5" y2="326.8" stroke="#df6a6a" stroke-width="1.0"/>
<text x="418.6" y="330.7" font-size="11.5" fill="#262626">The new devices</text>
<line x1="387.8" y1="430.1" x2="413.1" y2="430.1" stroke="#888" stroke-width="1.1"/>
<rect x="398.25" y="427.90" width="4.4" height="4.4" fill="#383838"/>
<text x="416.9" y="434.0" font-size="11.5" fill="#262626">The MEMS sensors</text>
<line x1="387.8" y1="444.3" x2="413.1" y2="444.3" stroke="#e27070" stroke-width="1.1"/>
<circle cx="400.45" cy="444.30" r="2.7" fill="#e83b3b"/>
<text x="416.9" y="448.2" font-size="11.5" fill="#262626">The new devices</text>
<line x1="387.8" y1="457.8" x2="413.1" y2="457.8" stroke="#5a90d8" stroke-width="1.1"/>
<path d="M400.45 454.80L403.45 460.10L397.45 460.10Z" fill="#1c62d2"/>
<text x="416.9" y="461.7" font-size="11.5" fill="#262626">The actual values</text>
<clipPath id="clipe"><rect x="41.3" y="602.6" width="295.3" height="117.69999999999993"/></clipPath>
<polyline clip-path="url(#clipe)" points="41.3,641.2 139.6,641.4 142.7,639.8 145.0,640.5 147.3,639.2 149.0,640.1 150.9,639.8 152.9,641.4 158.0,640.8 163.1,640.2 164.2,636.1 165.7,634.6 167.2,637.2 168.8,638.8 170.8,636.8 172.8,637.8 173.6,637.6 175.1,635.6 176.6,641.1 178.2,638.2 180.2,640.6 182.8,638.0 184.8,640.6 186.5,639.1 188.4,637.0 190.4,639.0 193.5,640.6 195.3,639.0 197.1,642.6 199.4,645.6 201.2,640.6 203.2,639.6 206.0,625.1 207.6,639.5 208.8,636.5 210.3,637.5 212.7,643.6 214.1,625.1 216.8,641.6 218.2,634.4 220.1,639.0 222.1,643.1 224.7,637.0 226.0,636.0 227.7,619.1 229.1,640.6 230.5,631.4 232.8,644.1 235.4,643.1 236.5,642.4 238.3,629.9 239.5,705.2 241.0,632.2 242.2,633.5 243.4,636.8 245.2,635.9 254.3,636.8 260.4,637.1 278.7,637.1 287.2,638.4 293.3,638.6 300.0,638.0 302.4,637.7 304.8,638.3 307.1,638.3 309.5,637.9 311.9,638.1 314.2,638.1 316.6,638.3 319.0,638.2" fill="none" stroke="#555" stroke-width="0.9" stroke-linejoin="round"/>
<polyline clip-path="url(#clipe)" points="41.3,641.4 139.6,641.5 142.7,639.9 145.0,640.6 147.3,639.4 149.0,640.3 150.9,639.9 152.9,641.5 158.0,640.9 163.1,640.4 164.2,636.3 165.7,634.8 167.2,637.4 168.8,638.9 170.8,636.9 172.8,637.9 173.6,637.8 175.1,635.8 176.6,641.2 178.2,638.4 180.2,640.7 182.8,638.1 184.8,640.7 186.5,639.2 188.4,637.1 190.4,639.1 193.5,640.7 195.3,639.1 197.1,642.7 199.4,645.8 201.2,640.7 203.2,639.8 206.0,625.3 207.6,639.6 208.8,636.6 210.3,637.6 212.7,643.7 214.1,625.3 216.8,641.7 218.2,634.5 220.1,639.1 222.1,643.2 224.7,637.1 226.0,636.1 227.7,619.2 229.1,640.7 230.5,631.5 232.8,644.2 235.4,643.2 236.5,642.5 238.3,630.0 239.5,705.4 241.0,632.4 242.2,633.6 243.4,636.9 245.2,636.0 254.3,636.9 260.4,637.3 278.7,637.3 287.2,638.5 293.3,638.8 300.0,638.1 302.4,638.5 304.8,638.5 307.1,637.9 309.5,637.9 311.9,638.6 314.2,638.5 316.6,638.5 319.0,638.4" fill="none" stroke="#dc5a5a" stroke-width="1.05" stroke-linejoin="round"/>
<clipPath id="clipde"><rect x="41.3" y="720.3" width="295.3" height="118.10000000000002"/></clipPath>
<g clip-path="url(#clipde)">
<path d="M41.50 838.00 C50.44 837.67 59.39 837.54 68.33 837.00 C77.27 836.46 86.22 834.74 95.16 832.80 C104.10 830.86 113.05 827.45 121.99 823.40 C130.93 819.35 139.88 812.20 148.82 806.20 C157.76 800.20 166.71 793.30 175.65 787.30 C184.59 781.30 193.54 775.46 202.48 770.10 C211.42 764.74 220.37 759.71 229.31 755.00 C238.25 750.29 247.20 745.21 256.14 741.70 C265.08 738.19 274.03 734.29 282.97 733.00 C291.91 731.71 300.86 731.23 309.80 730.50 C312.93 730.25 316.06 730.03 319.19 729.80" fill="none" stroke="#5a5a5a" stroke-width="1"/>
<path d="M41.50 838.20 C50.44 837.90 59.39 837.80 68.33 837.30 C77.27 836.80 86.22 834.96 95.16 833.00 C104.10 831.04 113.05 827.69 121.99 823.70 C130.93 819.71 139.88 812.78 148.82 806.90 C157.76 801.02 166.71 794.24 175.65 788.30 C184.59 782.36 193.54 776.55 202.48 771.20 C211.42 765.85 220.37 760.81 229.31 756.10 C238.25 751.39 247.20 746.33 256.14 742.80 C265.08 739.27 274.03 735.42 282.97 734.00 C291.91 732.58 300.86 731.20 309.80 731.20 C312.93 731.20 316.06 731.20 319.19 731.20" fill="none" stroke="#e25555" stroke-width="1"/>
<path d="M41.50 838.40 C50.44 838.13 59.39 838.05 68.33 837.60 C77.27 837.15 86.22 835.38 95.16 833.50 C104.10 831.62 113.05 828.25 121.99 824.40 C130.93 820.55 139.88 814.18 148.82 808.60 C157.76 803.02 166.71 796.51 175.65 790.80 C184.59 785.09 193.54 779.35 202.48 774.30 C211.42 769.25 220.37 764.67 229.31 760.30 C238.25 755.93 247.20 751.40 256.14 748.00 C265.08 744.60 274.03 740.59 282.97 739.30 C291.91 738.01 300.86 736.80 309.80 736.80 C312.93 736.80 316.06 736.80 319.19 736.80" fill="none" stroke="#3a7fd8" stroke-width="1"/>
<rect x="39.30" y="835.80" width="4.4" height="4.4" fill="#383838"/>
<rect x="66.13" y="834.80" width="4.4" height="4.4" fill="#383838"/>
<rect x="92.96" y="830.60" width="4.4" height="4.4" fill="#383838"/>
<rect x="119.79" y="821.20" width="4.4" height="4.4" fill="#383838"/>
<rect x="146.62" y="804.00" width="4.4" height="4.4" fill="#383838"/>
<rect x="173.45" y="785.10" width="4.4" height="4.4" fill="#383838"/>
<rect x="200.28" y="767.90" width="4.4" height="4.4" fill="#383838"/>
<rect x="227.11" y="752.80" width="4.4" height="4.4" fill="#383838"/>
<rect x="253.94" y="739.50" width="4.4" height="4.4" fill="#383838"/>
<rect x="280.77" y="730.80" width="4.4" height="4.4" fill="#383838"/>
<rect x="307.60" y="728.30" width="4.4" height="4.4" fill="#383838"/>
<rect x="316.99" y="727.60" width="4.4" height="4.4" fill="#383838"/>
<circle cx="41.50" cy="838.20" r="2.7" fill="#e83b3b"/>
<circle cx="68.33" cy="837.30" r="2.7" fill="#e83b3b"/>
<circle cx="95.16" cy="833.00" r="2.7" fill="#e83b3b"/>
<circle cx="121.99" cy="823.70" r="2.7" fill="#e83b3b"/>
<circle cx="148.82" cy="806.90" r="2.7" fill="#e83b3b"/>
<circle cx="175.65" cy="788.30" r="2.7" fill="#e83b3b"/>
<circle cx="202.48" cy="771.20" r="2.7" fill="#e83b3b"/>
<circle cx="229.31" cy="756.10" r="2.7" fill="#e83b3b"/>
<circle cx="256.14" cy="742.80" r="2.7" fill="#e83b3b"/>
<circle cx="282.97" cy="734.00" r="2.7" fill="#e83b3b"/>
<circle cx="309.80" cy="731.20" r="2.7" fill="#e83b3b"/>
<circle cx="319.19" cy="731.20" r="2.7" fill="#e83b3b"/>
<path d="M41.50 835.40L44.50 840.70L38.50 840.70Z" fill="#1c62d2"/>
<path d="M68.33 834.60L71.33 839.90L65.33 839.90Z" fill="#1c62d2"/>
<path d="M95.16 830.50L98.16 835.80L92.16 835.80Z" fill="#1c62d2"/>
<path d="M121.99 821.40L124.99 826.70L118.99 826.70Z" fill="#1c62d2"/>
<path d="M148.82 805.60L151.82 810.90L145.82 810.90Z" fill="#1c62d2"/>
<path d="M175.65 787.80L178.65 793.10L172.65 793.10Z" fill="#1c62d2"/>
<path d="M202.48 771.30L205.48 776.60L199.48 776.60Z" fill="#1c62d2"/>
<path d="M229.31 757.30L232.31 762.60L226.31 762.60Z" fill="#1c62d2"/>
<path d="M256.14 745.00L259.14 750.30L253.14 750.30Z" fill="#1c62d2"/>
<path d="M282.97 736.30L285.97 741.60L279.97 741.60Z" fill="#1c62d2"/>
<path d="M309.80 733.80L312.80 739.10L306.80 739.10Z" fill="#1c62d2"/>
<path d="M319.19 733.80L322.19 739.10L316.19 739.10Z" fill="#1c62d2"/>
</g>
<path d="M41.3 602.6H336.6V838.4H41.3Z M41.3 720.3H336.6" fill="none" stroke="#3a3a3a" stroke-width="1.3"/>
<path d="M68.33 720.3v-4.0 M68.33 838.4v-4.0 M95.16 720.3v-4.0 M95.16 838.4v-4.0 M121.99 720.3v-4.0 M121.99 838.4v-4.0 M148.82 720.3v-4.0 M148.82 838.4v-4.0 M175.65 720.3v-4.0 M175.65 838.4v-4.0 M202.48 720.3v-4.0 M202.48 838.4v-4.0 M229.31 720.3v-4.0 M229.31 838.4v-4.0 M256.14 720.3v-4.0 M256.14 838.4v-4.0 M282.97 720.3v-4.0 M282.97 838.4v-4.0 M309.80 720.3v-4.0 M309.80 838.4v-4.0 M41.3 614.60h4.0 M41.3 628.00h4.0 M41.3 641.40h4.0 M41.3 654.80h4.0 M41.3 668.20h4.0 M41.3 681.60h4.0 M41.3 695.00h4.0 M41.3 708.40h4.0 M41.3 821.55h4.0 M41.3 804.70h4.0 M41.3 787.85h4.0 M41.3 771.00h4.0 M41.3 754.15h4.0 M41.3 737.30h4.0" stroke="#3a3a3a" stroke-width="1.2" fill="none"/>
<g font-size="11" fill="#303030" style="stroke:#303030;stroke-width:0.25px"><text x="36.1" y="618.4" text-anchor="end">0.2</text><text x="36.1" y="631.8" text-anchor="end">0.1</text><text x="36.1" y="645.2" text-anchor="end">0.0</text><text x="36.1" y="658.6" text-anchor="end">-0.1</text><text x="36.1" y="672.0" text-anchor="end">-0.2</text><text x="36.1" y="685.4" text-anchor="end">-0.3</text><text x="36.1" y="698.8" text-anchor="end">-0.4</text><text x="36.1" y="712.2" text-anchor="end">-0.5</text><text x="36.1" y="842.2" text-anchor="end">0</text><text x="36.1" y="825.3" text-anchor="end">50</text><text x="36.1" y="808.5" text-anchor="end">100</text><text x="36.1" y="791.6" text-anchor="end">150</text><text x="36.1" y="774.8" text-anchor="end">200</text><text x="36.1" y="757.9" text-anchor="end">250</text><text x="36.1" y="741.1" text-anchor="end">300</text><text x="36.1" y="724.2" text-anchor="end">350</text><text x="41.5" y="851.4" text-anchor="middle">0</text><text x="68.3" y="851.4" text-anchor="middle">1</text><text x="95.2" y="851.4" text-anchor="middle">2</text><text x="122.0" y="851.4" text-anchor="middle">3</text><text x="148.8" y="851.4" text-anchor="middle">4</text><text x="175.6" y="851.4" text-anchor="middle">5</text><text x="202.5" y="851.4" text-anchor="middle">6</text><text x="229.3" y="851.4" text-anchor="middle">7</text><text x="256.1" y="851.4" text-anchor="middle">8</text><text x="283.0" y="851.4" text-anchor="middle">9</text><text x="309.8" y="851.4" text-anchor="middle">10</text><text x="336.6" y="851.4" text-anchor="middle">11</text></g>
<text transform="translate(13.4,660.2) rotate(-90)" text-anchor="middle" font-size="12.2" fill="#262626">Acceleration/g</text>
<text transform="translate(12.799999999999999,780.3) rotate(-90)" text-anchor="middle" font-size="12.2" fill="#262626">Displacement/mm</text>
<text x="189.4" y="864.0" text-anchor="middle" font-size="11.5" fill="#262626">Time/s</text>
<text x="225.9" y="899.3" text-anchor="middle" font-size="17.6" fill="#111">(e)</text>
<line x1="48.2" y1="614.0" x2="73.7" y2="614.0" stroke="#8a8a8a" stroke-width="1.1"/>
<text x="77.4" y="617.9" font-size="11.5" fill="#262626">The MEMS sensors</text>
<line x1="48.2" y1="628.3" x2="73.7" y2="628.3" stroke="#e07575" stroke-width="1.1"/>
<text x="77.4" y="632.2" font-size="11.5" fill="#262626">The new devices</text>
<line x1="48.6" y1="731.2" x2="73.9" y2="731.2" stroke="#888" stroke-width="1.1"/>
<rect x="59.05" y="729.00" width="4.4" height="4.4" fill="#383838"/>
<text x="77.2" y="735.1" font-size="11.5" fill="#262626">The MEMS sensors</text>
<line x1="48.6" y1="745.9" x2="73.9" y2="745.9" stroke="#e27070" stroke-width="1.1"/>
<circle cx="61.25" cy="745.90" r="2.7" fill="#e83b3b"/>
<text x="77.2" y="749.8" font-size="11.5" fill="#262626">The new devices</text>
<line x1="48.6" y1="760.1" x2="73.9" y2="760.1" stroke="#5a90d8" stroke-width="1.1"/>
<path d="M61.25 757.10L64.25 762.40L58.25 762.40Z" fill="#1c62d2"/>
<text x="77.2" y="764.0" font-size="11.5" fill="#262626">The actual values</text>
<clipPath id="clipf"><rect x="384.2" y="609.6" width="294.8" height="115.69999999999993"/></clipPath>
<polyline clip-path="url(#clipf)" points="384.2,668.0 520.0,668.0 530.2,667.5 532.3,670.1 533.6,655.3 534.8,662.9 536.9,663.9 538.9,669.0 540.9,676.7 543.0,667.0 545.0,666.5 546.8,662.4 548.1,662.9 549.6,671.1 552.2,673.1 554.7,660.4 557.3,669.6 559.9,655.8 561.4,671.1 563.4,666.5 565.0,653.7 568.0,676.7 570.1,662.9 571.6,653.7 573.6,678.2 575.7,665.0 577.6,677.8 579.6,671.2 582.2,629.2 583.9,669.9 585.2,702.8 587.5,680.4 589.5,651.5 591.0,664.7 592.1,666.6 594.1,662.0 596.0,663.2 597.0,663.1 598.1,661.3 599.3,663.1 600.4,661.3 601.6,663.1 602.7,661.3 603.9,663.1 605.0,661.3 606.2,663.1 607.3,661.3 608.5,663.1 609.6,661.3 610.8,663.1 611.9,661.3 613.1,663.1 614.2,661.3 615.4,663.1 618.0,662.1 655.1,662.0" fill="none" stroke="#1a1a1a" stroke-width="1.2" stroke-linejoin="round"/>
<polyline clip-path="url(#clipf)" points="384.2,668.2 520.0,668.2 531.2,667.2 532.8,663.9 534.8,660.9 536.9,663.9 538.4,672.1 539.9,673.6 542.0,667.0 543.5,665.5 545.5,667.0 547.6,663.9 550.7,674.2 552.7,669.0 554.7,663.9 556.3,671.1 558.8,674.2 560.9,669.0 562.9,663.9 565.3,652.2 568.0,675.2 570.1,663.9 572.1,660.9 573.6,673.1 575.7,667.5 577.2,671.6 578.5,668.0 580.3,641.0 582.2,654.2 583.9,676.5 585.5,698.8 587.5,689.6 588.8,658.1 590.1,663.4 593.4,659.4 596.0,661.0 597.5,663.5 598.5,664.1 599.6,665.9 600.8,664.1 601.9,665.9 603.1,664.1 604.2,665.9 605.4,664.1 606.5,665.9 607.7,664.1 608.8,665.9 610.0,664.1 611.1,665.9 612.3,664.1 613.4,665.9 614.6,664.1 615.7,665.9 616.9,664.1 618.0,665.9 621.0,664.8 655.1,664.5" fill="none" stroke="#d82020" stroke-width="1.15" stroke-linejoin="round"/>
<clipPath id="clipdf"><rect x="384.2" y="725.3" width="294.8" height="115.0"/></clipPath>
<g clip-path="url(#clipdf)">
<path d="M384.10 839.50 C391.13 839.33 398.17 839.27 405.20 839.00 C412.23 838.73 419.27 837.96 426.30 837.00 C433.33 836.04 440.37 833.87 447.40 831.90 C454.43 829.93 461.47 827.50 468.50 824.90 C475.53 822.30 482.57 819.52 489.60 816.10 C496.63 812.68 503.67 808.17 510.70 803.80 C517.73 799.43 524.77 794.58 531.80 789.80 C538.83 785.02 545.87 780.07 552.90 775.10 C559.93 770.13 566.97 764.64 574.00 760.00 C581.03 755.36 588.07 750.42 595.10 747.10 C602.13 743.78 609.17 741.11 616.20 739.00 C623.23 736.89 630.27 734.62 637.30 733.80 C643.28 733.10 649.26 732.87 655.24 732.40" fill="none" stroke="#5a5a5a" stroke-width="1"/>
<path d="M384.10 839.70 C391.13 839.60 398.17 839.55 405.20 839.40 C412.23 839.25 419.27 838.99 426.30 838.50 C433.33 838.01 440.37 835.94 447.40 834.30 C454.43 832.66 461.47 830.38 468.50 828.40 C475.53 826.42 482.57 824.88 489.60 822.40 C496.63 819.92 503.67 815.98 510.70 812.60 C517.73 809.22 524.77 805.88 531.80 802.10 C538.83 798.32 545.87 794.26 552.90 789.80 C559.93 785.34 566.97 780.18 574.00 775.10 C581.03 770.02 588.07 764.11 595.10 759.30 C602.13 754.49 609.17 749.33 616.20 746.00 C623.23 742.67 630.27 739.42 637.30 738.00 C643.28 736.80 649.26 736.33 655.24 735.50" fill="none" stroke="#e25555" stroke-width="1"/>
<path d="M384.10 839.90 C391.13 839.80 398.17 839.75 405.20 839.60 C412.23 839.45 419.27 839.17 426.30 838.70 C433.33 838.23 440.37 836.84 447.40 835.40 C454.43 833.96 461.47 831.15 468.50 829.10 C475.53 827.05 482.57 825.48 489.60 823.10 C496.63 820.72 503.67 817.39 510.70 814.30 C517.73 811.21 524.77 807.98 531.80 804.50 C538.83 801.02 545.87 797.45 552.90 793.30 C559.93 789.15 566.97 784.08 574.00 779.30 C581.03 774.52 588.07 769.12 595.10 764.60 C602.13 760.08 609.17 754.92 616.20 752.00 C623.23 749.08 630.27 746.49 637.30 745.30 C643.28 744.29 649.26 743.90 655.24 743.20" fill="none" stroke="#3a7fd8" stroke-width="1"/>
<rect x="381.90" y="837.30" width="4.4" height="4.4" fill="#383838"/>
<rect x="403.00" y="836.80" width="4.4" height="4.4" fill="#383838"/>
<rect x="424.10" y="834.80" width="4.4" height="4.4" fill="#383838"/>
<rect x="445.20" y="829.70" width="4.4" height="4.4" fill="#383838"/>
<rect x="466.30" y="822.70" width="4.4" height="4.4" fill="#383838"/>
<rect x="487.40" y="813.90" width="4.4" height="4.4" fill="#383838"/>
<rect x="508.50" y="801.60" width="4.4" height="4.4" fill="#383838"/>
<rect x="529.60" y="787.60" width="4.4" height="4.4" fill="#383838"/>
<rect x="550.70" y="772.90" width="4.4" height="4.4" fill="#383838"/>
<rect x="571.80" y="757.80" width="4.4" height="4.4" fill="#383838"/>
<rect x="592.90" y="744.90" width="4.4" height="4.4" fill="#383838"/>
<rect x="614.00" y="736.80" width="4.4" height="4.4" fill="#383838"/>
<rect x="635.10" y="731.60" width="4.4" height="4.4" fill="#383838"/>
<rect x="653.03" y="730.20" width="4.4" height="4.4" fill="#383838"/>
<circle cx="384.10" cy="839.70" r="2.7" fill="#e83b3b"/>
<circle cx="405.20" cy="839.40" r="2.7" fill="#e83b3b"/>
<circle cx="426.30" cy="838.50" r="2.7" fill="#e83b3b"/>
<circle cx="447.40" cy="834.30" r="2.7" fill="#e83b3b"/>
<circle cx="468.50" cy="828.40" r="2.7" fill="#e83b3b"/>
<circle cx="489.60" cy="822.40" r="2.7" fill="#e83b3b"/>
<circle cx="510.70" cy="812.60" r="2.7" fill="#e83b3b"/>
<circle cx="531.80" cy="802.10" r="2.7" fill="#e83b3b"/>
<circle cx="552.90" cy="789.80" r="2.7" fill="#e83b3b"/>
<circle cx="574.00" cy="775.10" r="2.7" fill="#e83b3b"/>
<circle cx="595.10" cy="759.30" r="2.7" fill="#e83b3b"/>
<circle cx="616.20" cy="746.00" r="2.7" fill="#e83b3b"/>
<circle cx="637.30" cy="738.00" r="2.7" fill="#e83b3b"/>
<circle cx="655.24" cy="735.50" r="2.7" fill="#e83b3b"/>
<path d="M384.10 836.90L387.10 842.20L381.10 842.20Z" fill="#1c62d2"/>
<path d="M405.20 836.60L408.20 841.90L402.20 841.90Z" fill="#1c62d2"/>
<path d="M426.30 835.70L429.30 841.00L423.30 841.00Z" fill="#1c62d2"/>
<path d="M447.40 832.40L450.40 837.70L444.40 837.70Z" fill="#1c62d2"/>
<path d="M468.50 826.10L471.50 831.40L465.50 831.40Z" fill="#1c62d2"/>
<path d="M489.60 820.10L492.60 825.40L486.60 825.40Z" fill="#1c62d2"/>
<path d="M510.70 811.30L513.70 816.60L507.70 816.60Z" fill="#1c62d2"/>
<path d="M531.80 801.50L534.80 806.80L528.80 806.80Z" fill="#1c62d2"/>
<path d="M552.90 790.30L555.90 795.60L549.90 795.60Z" fill="#1c62d2"/>
<path d="M574.00 776.30L577.00 781.60L571.00 781.60Z" fill="#1c62d2"/>
<path d="M595.10 761.60L598.10 766.90L592.10 766.90Z" fill="#1c62d2"/>
<path d="M616.20 749.00L619.20 754.30L613.20 754.30Z" fill="#1c62d2"/>
<path d="M637.30 742.30L640.30 747.60L634.30 747.60Z" fill="#1c62d2"/>
<path d="M655.24 740.20L658.24 745.50L652.24 745.50Z" fill="#1c62d2"/>
</g>
<path d="M384.2 609.6H679.0V840.3H384.2Z M384.2 725.3H679.0" fill="none" stroke="#3a3a3a" stroke-width="1.3"/>
<path d="M405.20 725.3v-4.0 M405.20 840.3v-4.0 M426.30 725.3v-4.0 M426.30 840.3v-4.0 M447.40 725.3v-4.0 M447.40 840.3v-4.0 M468.50 725.3v-4.0 M468.50 840.3v-4.0 M489.60 725.3v-4.0 M489.60 840.3v-4.0 M510.70 725.3v-4.0 M510.70 840.3v-4.0 M531.80 725.3v-4.0 M531.80 840.3v-4.0 M552.90 725.3v-4.0 M552.90 840.3v-4.0 M574.00 725.3v-4.0 M574.00 840.3v-4.0 M595.10 725.3v-4.0 M595.10 840.3v-4.0 M616.20 725.3v-4.0 M616.20 840.3v-4.0 M637.30 725.3v-4.0 M637.30 840.3v-4.0 M658.40 725.3v-4.0 M658.40 840.3v-4.0 M384.2 629.00h4.0 M384.2 648.50h4.0 M384.2 668.00h4.0 M384.2 687.50h4.0 M384.2 707.00h4.0 M384.2 824.25h4.0 M384.2 808.20h4.0 M384.2 792.15h4.0 M384.2 776.10h4.0 M384.2 760.05h4.0 M384.2 744.00h4.0 M384.2 727.95h4.0" stroke="#3a3a3a" stroke-width="1.2" fill="none"/>
<g font-size="11" fill="#303030" style="stroke:#303030;stroke-width:0.25px"><text x="379.0" y="613.3" text-anchor="end">0.3</text><text x="379.0" y="632.8" text-anchor="end">0.2</text><text x="379.0" y="652.3" text-anchor="end">0.1</text><text x="379.0" y="671.8" text-anchor="end">0.0</text><text x="379.0" y="691.3" text-anchor="end">-0.1</text><text x="379.0" y="710.8" text-anchor="end">-0.2</text><text x="379.0" y="844.1" text-anchor="end">0</text><text x="379.0" y="828.0" text-anchor="end">50</text><text x="379.0" y="812.0" text-anchor="end">100</text><text x="379.0" y="795.9" text-anchor="end">150</text><text x="379.0" y="779.9" text-anchor="end">200</text><text x="379.0" y="763.8" text-anchor="end">250</text><text x="379.0" y="747.8" text-anchor="end">300</text><text x="379.0" y="731.7" text-anchor="end">350</text><text x="384.1" y="853.2" text-anchor="middle">0</text><text x="405.2" y="853.2" text-anchor="middle">1</text><text x="426.3" y="853.2" text-anchor="middle">2</text><text x="447.4" y="853.2" text-anchor="middle">3</text><text x="468.5" y="853.2" text-anchor="middle">4</text><text x="489.6" y="853.2" text-anchor="middle">5</text><text x="510.7" y="853.2" text-anchor="middle">6</text><text x="531.8" y="853.2" text-anchor="middle">7</text><text x="552.9" y="853.2" text-anchor="middle">8</text><text x="574.0" y="853.2" text-anchor="middle">9</text><text x="595.1" y="853.2" text-anchor="middle">10</text><text x="616.2" y="853.2" text-anchor="middle">11</text><text x="637.3" y="853.2" text-anchor="middle">12</text><text x="658.4" y="853.2" text-anchor="middle">13</text><text x="679.5" y="853.2" text-anchor="middle">14</text></g>
<text transform="translate(359.20000000000005,677.5) rotate(-90)" text-anchor="middle" font-size="12.1" fill="#262626">Acceleration/g</text>
<text transform="translate(355.8,787.0) rotate(-90)" text-anchor="middle" font-size="12.2" fill="#262626">Displacement/mm</text>
<text x="531.8" y="864.2" text-anchor="middle" font-size="11.5" fill="#262626">Time/s</text>
<text x="518.9" y="899.4" text-anchor="middle" font-size="17.6" fill="#111">(f)</text>
<line x1="389.7" y1="614.7" x2="414.8" y2="614.7" stroke="#606060" stroke-width="1.3"/>
<text x="418.6" y="618.6" font-size="11.5" fill="#262626">The MEMS sensors</text>
<line x1="389.7" y1="628.9" x2="414.8" y2="628.9" stroke="#e58a8a" stroke-width="1.3"/>
<text x="418.6" y="632.8" font-size="11.5" fill="#262626">The new devices</text>
<line x1="391.4" y1="730.9" x2="416.6" y2="730.9" stroke="#888" stroke-width="1.1"/>
<rect x="401.80" y="728.70" width="4.4" height="4.4" fill="#383838"/>
<text x="419.8" y="734.8" font-size="11.5" fill="#262626">The MEMS sensors</text>
<line x1="391.4" y1="745.4" x2="416.6" y2="745.4" stroke="#e27070" stroke-width="1.1"/>
<circle cx="404.00" cy="745.40" r="2.7" fill="#e83b3b"/>
<text x="419.8" y="749.3" font-size="11.5" fill="#262626">The new devices</text>
<line x1="391.4" y1="759.5" x2="416.6" y2="759.5" stroke="#5a90d8" stroke-width="1.1"/>
<path d="M404.00 756.50L407.00 761.80L401.00 761.80Z" fill="#1c62d2"/>
<text x="419.8" y="763.4" font-size="11.5" fill="#262626">The actual values</text>
</svg>
</body></html>
